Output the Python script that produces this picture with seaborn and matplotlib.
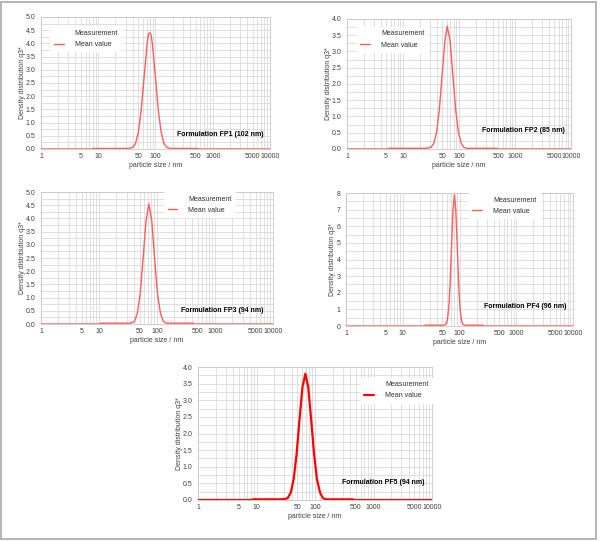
import numpy as np
import pandas as pd
import matplotlib
matplotlib.use("Agg")
import matplotlib.pyplot as plt
import seaborn as sns
from matplotlib.lines import Line2D
from matplotlib.patches import Rectangle
from matplotlib.ticker import MultipleLocator, FixedLocator, LogLocator, NullFormatter

# ---- data (particle size in nm, density q3*) ----
fp1_size = [1, 7.9, 8.0, 30, 35.5, 39.8, 44.7, 50.1, 56.2, 63.1, 70.8, 75.0, 79.4,
            84.1, 89.1, 100, 112, 126, 141, 158, 178, 550, 560, 10000]
fp1_q3 = [0, 0, 0.02, 0.02, 0.03, 0.06, 0.20, 0.62, 1.45, 2.70, 3.90, 4.35, 4.40,
          4.30, 3.90, 2.70, 1.45, 0.62, 0.20, 0.06, 0.02, 0.02, 0, 0]

fp2_size = [1, 5.4, 5.5, 25, 27.5, 31.6, 35.5, 39.8, 44.7, 50.1, 56.2, 61.7,
            69.2, 77.6, 87.1, 97.7, 110, 123, 138, 480, 490, 10000]
fp2_q3 = [0, 0, 0.02, 0.02, 0.03, 0.05, 0.17, 0.51, 1.23, 2.29, 3.34, 3.78,
          3.34, 2.29, 1.23, 0.51, 0.17, 0.05, 0.02, 0.02, 0, 0]

fp3_size = [1, 10.3, 10.4, 33, 36.3, 40.7, 45.7, 51.3, 57.5, 64.6, 72.4,
            81.3, 91.2, 102, 115, 129, 145, 420, 425, 10000]
fp3_q3 = [0, 0, 0.03, 0.03, 0.04, 0.10, 0.39, 1.13, 2.45, 3.90, 4.55,
          3.90, 2.45, 1.13, 0.39, 0.10, 0.03, 0.03, 0, 0]

pf4_size = [1, 24, 25, 50, 54.3, 57.5, 61.0, 64.6, 68.4, 72.4, 76.7, 81.3,
            86.1, 91.2, 96.6, 102, 108, 115, 122, 260, 265, 10000]
pf4_q3 = [0, 0, 0.05, 0.05, 0.06, 0.10, 0.35, 1.07, 2.57, 4.79, 6.97, 7.90,
          6.97, 4.79, 2.57, 1.07, 0.35, 0.10, 0.05, 0.05, 0, 0]

pf5_size = [1, 8.6, 8.7, 27, 30.5, 34.2, 38.5, 43.1, 48.4, 54.3, 61.0, 68.4,
            76.7, 86.1, 96.6, 108, 122, 136, 153, 445, 450, 10000]
pf5_q3 = [0, 0, 0.02, 0.02, 0.03, 0.06, 0.22, 0.62, 1.37, 2.41, 3.39, 3.80,
          3.39, 2.41, 1.37, 0.62, 0.22, 0.06, 0.02, 0.02, 0, 0]

x_ticks = [1, 5, 10, 50, 100, 500, 1000, 5000, 10000]
titles = ["Formulation FP1 (102 nm)", "Formulation FP2 (85 nm)",
          "Formulation FP3 (94 nm)", "Formulation PF4 (96 nm)",
          "Formulation PF5 (94 nm)"]

sns.set_theme(style="white")
plt.rcParams['font.family'] = ['Liberation Sans', 'DejaVu Sans']

fig = plt.figure(figsize=(6.0, 5.41), dpi=100)

# panel settings: axes rect, data, ymax, ystep, legend anchor, label pos, line style
panels = [
    dict(rect=[0.0683, 0.7246, 0.3817, 0.244], x=fp1_size, y=fp1_q3, ymax=5, step=0.5,
         leg=(0.035, 0.94), lab=(0.97, 0.11), color="#ff5c5c", lw=1.0),
    dict(rect=[0.5783, 0.7246, 0.3733, 0.2403], x=fp2_size, y=fp2_q3, ymax=4, step=0.5,
         leg=(0.038, 0.95), lab=(0.973, 0.14), color="#ff5c5c", lw=1.0),
    dict(rect=[0.0683, 0.4011, 0.3867, 0.244], x=fp3_size, y=fp3_q3, ymax=5, step=0.5,
         leg=(0.525, 1.01), lab=(0.96, 0.106), color="#ff5c5c", lw=1.0),
    dict(rect=[0.5767, 0.3974, 0.3783, 0.2458], x=pf4_size, y=pf4_q3, ymax=8, step=1,
         leg=(0.535, 1.01), lab=(0.97, 0.143), color="#ff5c5c", lw=1.0),
    dict(rect=[0.33, 0.0758, 0.39, 0.2458], x=pf5_size, y=pf5_q3, ymax=4, step=0.5,
         leg=(0.69, 0.93), lab=(0.966, 0.135), color="#ff0000", lw=1.6),
]

for p, title in zip(panels, titles):
    ax = fig.add_axes(p["rect"])
    df = pd.DataFrame({"size": p["x"], "q3": p["y"]})
    sns.lineplot(data=df, x="size", y="q3", ax=ax, color=p["color"], lw=p["lw"],
                 legend=False, zorder=3)
    ax.set_xscale("log")
    ax.set_xlim(1, 10000)
    ax.set_ylim(0, p["ymax"])

    ax.xaxis.set_major_locator(FixedLocator(x_ticks))
    ax.set_xticklabels([str(t) for t in x_ticks])
    ax.xaxis.set_minor_locator(LogLocator(base=10, subs=np.arange(1, 10), numticks=20))
    ax.xaxis.set_minor_formatter(NullFormatter())
    ax.yaxis.set_major_locator(MultipleLocator(p["step"]))
    ax.yaxis.set_minor_locator(MultipleLocator(p["step"] / 2))
    if p["step"] < 1:
        ax.yaxis.set_major_formatter(matplotlib.ticker.FormatStrFormatter("%.1f"))
    else:
        ax.yaxis.set_major_formatter(matplotlib.ticker.FormatStrFormatter("%d"))

    ax.grid(True, which="both", color="#dadada", lw=0.6)
    ax.set_axisbelow(True)
    ax.tick_params(axis="both", which="both", labelsize=5, colors="#404040")
    ax.tick_params(axis="y", which="both", length=3, width=0.5, color="#b8b8b8", pad=1)
    ax.tick_params(axis="x", which="both", length=0, pad=3)
    for s in ax.spines.values():
        s.set_color("#c8c8c8")
        s.set_linewidth(0.6)

    ax.set_xlabel("particle size / nm", fontsize=5, color="#404040", labelpad=1)
    ax.set_ylabel("Density distribution q3*", fontsize=5, color="#404040", labelpad=0)

    handles = [Line2D([], [], color="white", lw=1.0),
               Line2D([], [], color=p["color"], lw=p["lw"])]
    leg = ax.legend(handles, ["Measurement", "Mean value"], loc="upper left",
                    bbox_to_anchor=p["leg"], fontsize=5, frameon=True,
                    handlelength=1.4, handletextpad=1.6, borderpad=0.5,
                    labelspacing=0.6, borderaxespad=0.2, fancybox=False)
    leg.get_frame().set_facecolor("white")
    leg.get_frame().set_edgecolor("white")
    leg.get_frame().set_alpha(1.0)
    for t in leg.get_texts():
        t.set_color("#303030")

    ax.text(p["lab"][0], p["lab"][1], title, transform=ax.transAxes, ha="right",
            va="center", fontsize=5, fontweight="bold", color="black", zorder=5)

# thin grey frame round the whole figure
fig.add_artist(Rectangle((0.0015, 2.0 / 541), 595.5 / 600, 537.5 / 541,
                         transform=fig.transFigure, fill=False,
                         edgecolor="#a8a8a8", lw=1.2))

fig.savefig("out.png", dpi=100)
